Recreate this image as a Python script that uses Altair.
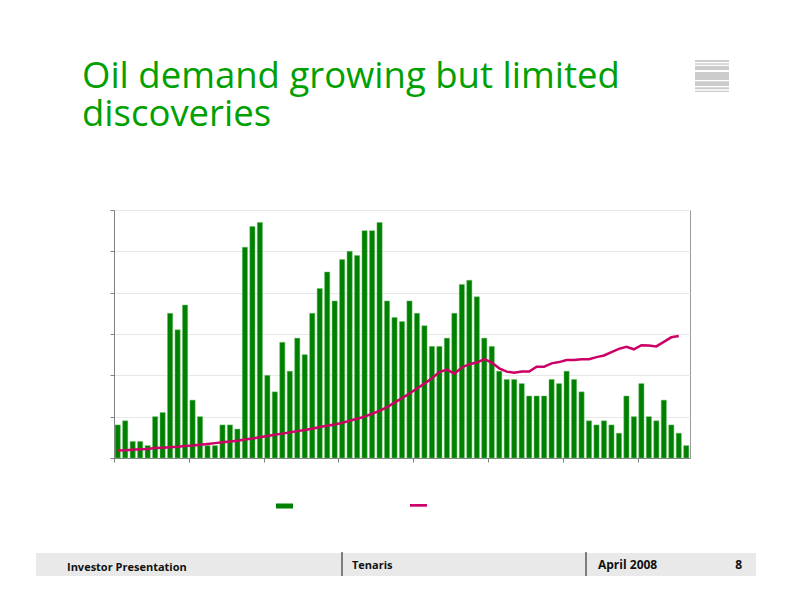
import altair as alt
import pandas as pd

# ---------------- data ----------------
years = list(range(1930, 2007))
discoveries = [8, 9, 4, 4, 3, 10, 11, 35, 31, 37,
               14, 10, 3, 3, 8, 8, 7, 51, 56, 57,
               20, 16, 28, 21, 29, 25, 35, 41, 45, 38,
               48, 50, 49, 55, 55, 57, 38, 34, 33, 38,
               35, 32, 27, 27, 29, 35, 42, 43, 39, 29,
               27, 21, 19, 19, 18, 15, 15, 15, 19, 18,
               21, 19, 16, 9, 8, 9, 8, 6, 15, 10,
               18, 10, 9, 14, 8, 6, 3]
demand_years = list(range(1930, 2006))
demand = [1.8, 1.9, 2.0, 2.1, 2.2, 2.4, 2.5, 2.6, 2.7, 2.9,
          3.0, 3.2, 3.4, 3.6, 3.8, 4.0, 4.2, 4.5, 4.7, 5.0,
          5.3, 5.6, 5.9, 6.2, 6.5, 6.8, 7.1, 7.5, 7.8, 8.1,
          8.5, 9.0, 9.5, 10.0, 10.7, 11.4, 12.3, 13.4, 14.5, 15.6,
          16.8, 18.0, 19.3, 20.8, 21.4, 20.4, 21.9, 22.7, 23.1, 23.9,
          23.1, 21.7, 20.9, 20.6, 20.9, 20.9, 22.1, 22.1, 22.9, 23.2,
          23.7, 23.7, 23.9, 23.9, 24.4, 24.8, 25.6, 26.4, 26.9, 26.3,
          27.3, 27.2, 27.0, 28.1, 29.2, 29.5]
decade_ticks = [1930, 1940, 1950, 1960, 1970, 1980, 1990, 2000]
y_ticks = [0, 10, 20, 30, 40, 50, 60]
title_lines = ["Oil demand growing but limited", "discoveries"]
footer_left = "Investor Presentation"
footer_mid = "Tenaris"
footer_date = "April 2008"
footer_page = "8"

# ---------------- layout ----------------
W, H = 576, 248
PAD_L, PAD_T = 106, 202
OX, OY = 8 + PAD_L, 8 + PAD_T  # page coords of plot origin

GREEN = "#008000"
MAGENTA = "#cc0066"
TITLE_GREEN = "#00a000"

bars_df = pd.DataFrame({"year": years, "discoveries": discoveries})
line_df = pd.DataFrame({"year": demand_years, "demand": demand})
dummy = pd.DataFrame({"k": [0]})

xscale = alt.Scale(domain=[1930, 2007], nice=False, zero=False, padding=0)
yscale = alt.Scale(domain=[0, 60], nice=False, padding=0)

xaxis = alt.Axis(values=decade_ticks, labels=False, title=None, grid=False,
                 tickSize=4, domainColor="#808080", tickColor="#808080")
yaxis = alt.Axis(values=y_ticks, labels=False, title=None, grid=True,
                 gridColor="#e8e8e8", tickSize=4, domainColor="#808080",
                 tickColor="#808080")

bars = alt.Chart(bars_df).transform_calculate(xc="datum.year + 0.5").mark_bar(
    size=5.2, color=GREEN, stroke="#6cbf6c", strokeWidth=0.5
).encode(
    x=alt.X("xc:Q", scale=xscale, axis=xaxis),
    y=alt.Y("discoveries:Q", scale=yscale, axis=yaxis),
)

line = alt.Chart(line_df).transform_calculate(xc="datum.year + 0.5").mark_line(
    color=MAGENTA, strokeWidth=2.5
).encode(
    x=alt.X("xc:Q", scale=xscale),
    y=alt.Y("demand:Q", scale=yscale),
)


def rect(x1, x2, y1, y2, color):
    return alt.Chart(dummy).mark_rect(color=color).encode(
        x=alt.value(x1 - OX), x2=alt.value(x2 - OX),
        y=alt.value(y1 - OY), y2=alt.value(y2 - OY))


def text(s, x, y, size, color, weight="normal", align="left", font="Open Sans", lh=None):
    kw = {}
    if lh is not None:
        kw["lineHeight"] = lh
    return alt.Chart(dummy).mark_text(
        text=s, align=align, baseline="alphabetic", fontSize=size,
        fontWeight=weight, color=color, font=font, **kw
    ).encode(x=alt.value(x - OX), y=alt.value(y - OY))


def vrule(x, y1, y2, color, w):
    return alt.Chart(dummy).mark_rule(color=color, strokeWidth=w).encode(
        x=alt.value(x - OX), y=alt.value(y1 - OY), y2=alt.value(y2 - OY))


deco = []
# title (two lines in one text mark)
deco.append(text(title_lines, 82, 88, 36.5, TITLE_GREEN, lh=38))
# icon stripes
for (a, b) in [(60, 62), (63.3, 64.7), (66, 70), (72, 80), (81.3, 86), (87.3, 89.3), (90.7, 92)]:
    deco.append(rect(695, 729, a, b, "#cccccc"))
# legend swatches
deco.append(rect(276, 293, 503.5, 508.5, GREEN))
deco.append(rect(410, 427, 504, 506.7, MAGENTA))
# footer
deco.append(rect(36, 756, 553, 576, "#e9e9e9"))
deco.append(vrule(342, 552, 576, "#444444", 1.3))
deco.append(vrule(586, 552, 576, "#444444", 1.3))
deco.append(text(footer_left, 67, 571, 11, "#111111", "bold"))
deco.append(text(footer_mid, 352, 569, 11, "#111111", "bold"))
deco.append(text(footer_date, 598, 569, 12, "#111111", "bold"))
deco.append(text(footer_page, 742, 569, 12, "#111111", "bold", align="right"))

chart = alt.layer(bars, line, *deco).properties(
    width=W, height=H,
    autosize=alt.AutoSizeParams(type="none"),
    padding={"left": PAD_L, "top": PAD_T, "right": 792 - 16 - PAD_L - W, "bottom": 612 - 16 - PAD_T - H},
).configure_view(stroke="#999999", strokeWidth=1)

chart.save("out.html", embed_options={"renderer": "svg", "actions": False})
